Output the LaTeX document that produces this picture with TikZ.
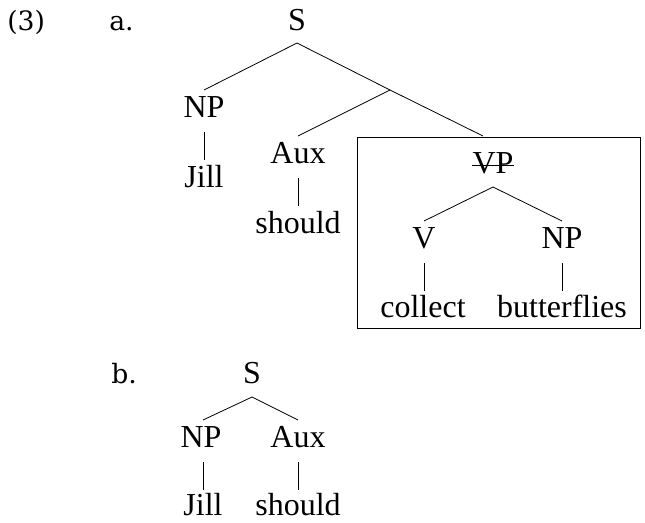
\documentclass[tikz,border=0pt]{standalone}
\usepackage{fontspec}
\setmainfont{Liberation Serif}
\newfontfamily\labfont{DejaVu Serif}
\begin{document}
\begin{tikzpicture}[x=0.75pt,y=-0.75pt,
  lab/.style={font=\fontsize{24}{28}\selectfont, anchor=base, inner sep=0pt},
  num/.style={font=\labfont\fontsize{20}{24}\selectfont, anchor=base west, inner sep=0pt},
  br/.style={line width=0.6pt}]
\useasboundingbox (0,0) rectangle (645,522);
% labels
\node[num] (n3) at (7,30) {(3)};
\node[num] (la) at (109,30) {a.};
\node[num] (lb) at (111,383) {b.};
% tree a
\node[lab] (S) at (297,30) {S};
\node[lab] (NP) at (204,117) {NP};
\node[lab] (Jill) at (204,187) {Jill};
\node[lab] (Aux) at (298,163) {Aux};
\node[lab] (should) at (298,233) {should};
\node[lab] (VP) at (493,173) {VP};
\node[lab] (V) at (424,248) {V};
\node[lab] (NP2) at (562,248) {NP};
\node[lab] (collect) at (423,317) {collect};
\node[lab] (bfl) at (562,317) {butterflies};
\coordinate (Sb) at (297,43);
\coordinate (X) at (390,90);
\coordinate (NPt) at (204,90);
\coordinate (NPb) at (204,132);
\coordinate (Jillt) at (204,160);
\coordinate (Auxt) at (298,136);
\coordinate (Auxb) at (298,178);
\coordinate (shouldt) at (298,206);
\coordinate (VPt) at (483,136);
\coordinate (VPb) at (493,187);
\coordinate (Vt) at (424,221);
\coordinate (Vb) at (424,263);
\coordinate (collectt) at (424,291);
\coordinate (NPtt) at (562,221);
\coordinate (NPbb) at (562,263);
\coordinate (bflt) at (562,291);
\draw[br] (Sb) -- (NPt);
\draw[br] (Sb) -- (X) -- (VPt);
\draw[br] (X) -- (Auxt);
\draw[br] (NPb) -- (Jillt);
\draw[br] (Auxb) -- (shouldt);
\draw[br] (VPb) -- (Vt);
\draw[br] (VPb) -- (NPtt);
\draw[br] (Vb) -- (collectt);
\draw[br] (NPbb) -- (bflt);
\draw[br] (472,165) -- (514,165);
\draw[br] (357,137) rectangle (640,328);
% tree b
\node[lab] (bS) at (252,383) {S};
\node[lab] (bNP) at (201,447) {NP};
\node[lab] (bAux) at (298,447) {Aux};
\node[lab] (bJill) at (203,515) {Jill};
\node[lab] (bshould) at (298,515) {should};
\coordinate (bSb) at (252,397);
\coordinate (bNPt) at (203,420);
\coordinate (bAuxt) at (298,420);
\coordinate (bNPb) at (203,462);
\coordinate (bJillt) at (203,490);
\coordinate (bAuxb) at (298,462);
\coordinate (bshouldt) at (298,490);
\draw[br] (bSb) -- (bNPt);
\draw[br] (bSb) -- (bAuxt);
\draw[br] (bNPb) -- (bJillt);
\draw[br] (bAuxb) -- (bshouldt);
\end{tikzpicture}
\end{document}
